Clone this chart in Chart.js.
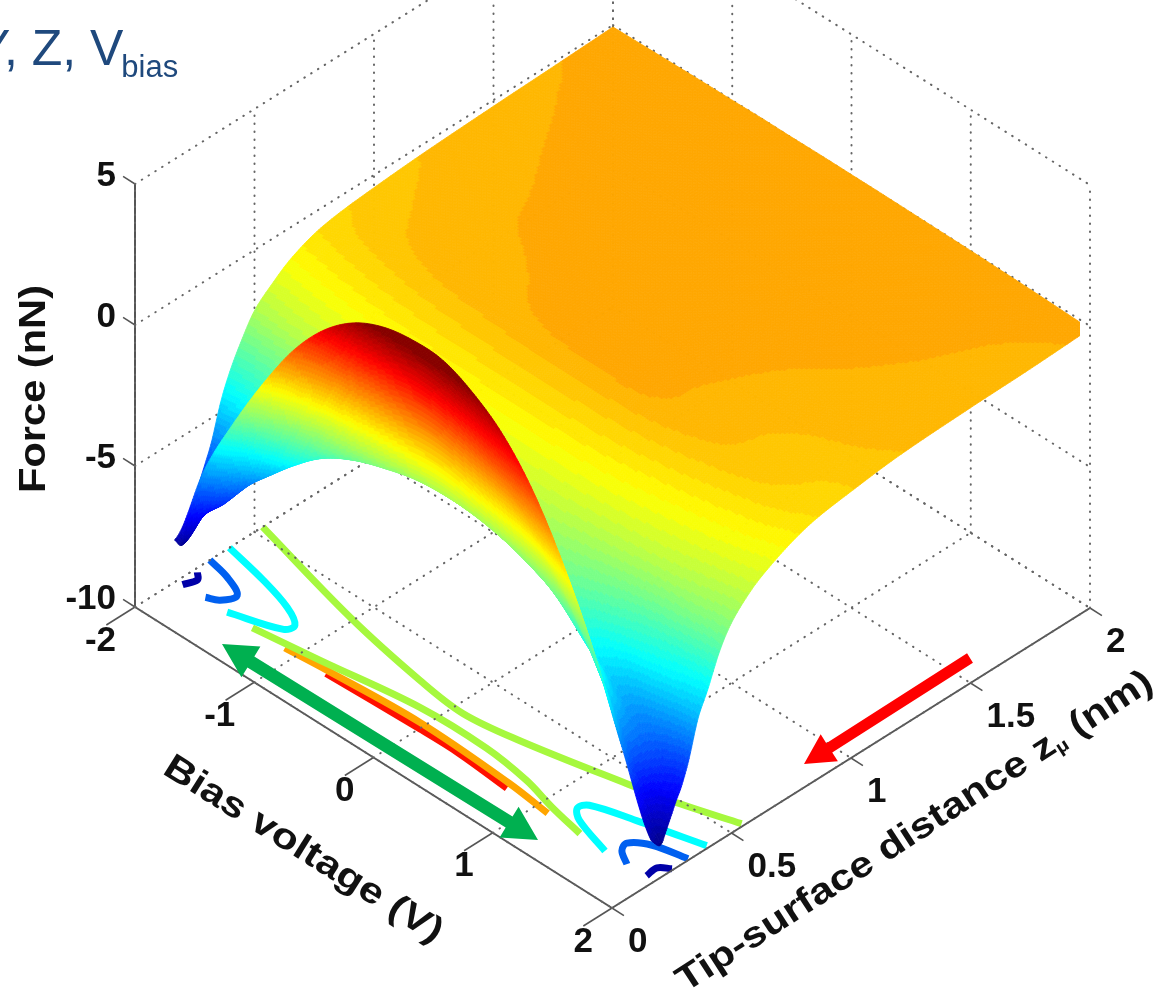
<!DOCTYPE html>
<html>
<head>
<meta charset="utf-8">
<title>Force surface</title>
<script src="https://cdn.jsdelivr.net/npm/chart.js@4/dist/chart.umd.min.js"></script>
<style>
  html, body { margin: 0; padding: 0; background: #fff; overflow: hidden; }
  canvas { display: block; }
</style>
</head>
<body>
<canvas id="forceChart" width="1174" height="996"></canvas>
<script>
// Values
const biasVoltage = [-2, -1.75, -1.5, -1.25, -1, -0.75, -0.5, -0.25, 0, 0.25, 0.5, 0.75, 1, 1.25, 1.5, 1.75, 2];
const tipDistance = [0.165, 0.197, 0.21, 0.22, 0.23, 0.24, 0.255, 0.27, 0.29, 0.32, 0.36, 0.4, 0.45, 0.5, 0.58, 0.65, 0.75, 0.85, 1, 1.2, 1.5, 1.75, 2];

// one row per tipDistance entry, one column per biasVoltage entry (nN)
const forceRows = [
    [-8.5, -5.35, -3, -0.92, 0.9, 2.27, 3.2, 3.72, 3.92, 3.88, 3.4, 2.6, 1.3, -0.57, -2.9, -5.8, -8.5],
    [-8.85, -6.4, -4, -2.2, -0.7, 0.6, 1.5, 1.95, 2.1, 1.93, 1.42, 0.56, -0.64, -2.18, -4.06, -6.28, -8.85],
    [-8.4, -6.7, -4.4, -2.7, -1.25, -0.05, 0.8, 1.25, 1.4, 1.24, 0.76, -0.03, -1.15, -2.58, -4.34, -6.41, -8.8],
    [-8.1, -6.85, -4.7, -3.05, -1.7, -0.6, 0.25, 0.7, 0.85, 0.7, 0.26, -0.48, -1.51, -2.84, -4.47, -6.38, -8.6],
    [-7.9, -6.95, -5, -3.4, -2.1, -1.1, -0.3, 0.15, 0.3, 0.16, -0.24, -0.92, -1.88, -3.1, -4.59, -6.36, -8.4],
    [-7.7, -7, -5.2, -3.7, -2.5, -1.6, -0.9, -0.45, -0.3, -0.42, -0.79, -1.41, -2.28, -3.39, -4.74, -6.35, -8.2],
    [-7.4, -6.9, -5.5, -4.15, -3.05, -2.3, -1.7, -1.25, -1.1, -1.21, -1.53, -2.06, -2.8, -3.76, -4.93, -6.31, -7.9],
    [-7, -6.6, -5.6, -4.45, -3.4, -2.7, -2.2, -1.85, -1.7, -1.8, -2.05, -2.5, -3.1, -4.13, -5.11, -6.26, -7.6],
    [-6.55, -6.2, -5.5, -4.5, -3.6, -3, -2.6, -2.3, -2.2, -2.25, -2.45, -2.8, -3.3, -4.2, -5.17, -6.14, -7.25],
    [-5.85, -5.6, -5.05, -4.3, -3.6, -3.1, -2.75, -2.5, -2.4, -2.45, -2.6, -2.9, -3.3, -4, -4.86, -5.62, -6.5],
    [-4.6, -4.4, -4.05, -3.55, -3.1, -2.75, -2.5, -2.35, -2.3, -2.33, -2.45, -2.65, -2.95, -3.45, -4.06, -4.59, -5.2],
    [-3.7, -3.55, -3.3, -2.95, -2.6, -2.4, -2.25, -2.15, -2.1, -2.13, -2.22, -2.4, -2.65, -3, -3.48, -3.91, -4.4],
    [-2.85, -2.75, -2.55, -2.35, -2.15, -2, -1.88, -1.82, -1.8, -1.82, -1.9, -2.02, -2.18, -2.4, -2.69, -2.97, -3.3],
    [-2.15, -2.01, -1.89, -1.78, -1.7, -1.63, -1.59, -1.56, -1.55, -1.56, -1.61, -1.68, -1.78, -1.9, -2.06, -2.3, -2.55],
    [-1.55, -1.45, -1.36, -1.29, -1.23, -1.18, -1.15, -1.13, -1.12, -1.13, -1.17, -1.22, -1.3, -1.41, -1.53, -1.68, -1.85],
    [-1.13, -1.05, -0.98, -0.92, -0.88, -0.84, -0.82, -0.8, -0.8, -0.81, -0.84, -0.9, -0.98, -1.07, -1.17, -1.3, -1.45],
    [-0.76, -0.68, -0.61, -0.55, -0.5, -0.47, -0.44, -0.42, -0.42, -0.43, -0.46, -0.5, -0.57, -0.66, -0.77, -0.88, -1.03],
    [-0.58, -0.47, -0.38, -0.31, -0.25, -0.22, -0.19, -0.15, -0.13, -0.12, -0.12, -0.2, -0.29, -0.38, -0.48, -0.6, -0.75],
    [-0.45, -0.36, -0.28, -0.22, -0.2, -0.15, -0.1, -0.05, -0.03, -0.03, -0.05, -0.14, -0.22, -0.31, -0.41, -0.49, -0.55],
    [-0.33, -0.27, -0.21, -0.16, -0.1, -0.05, -0.01, 0.01, 0.02, 0.01, -0.03, -0.09, -0.15, -0.19, -0.23, -0.28, -0.35],
    [-0.22, -0.18, -0.13, -0.09, -0.05, -0.02, 0.01, 0.03, 0.03, 0.03, 0.01, -0.03, -0.07, -0.11, -0.15, -0.2, -0.24],
    [-0.15, -0.11, -0.07, -0.04, -0.02, 0, 0.02, 0.03, 0.03, 0.03, 0.02, 0, -0.03, -0.06, -0.1, -0.15, -0.19],
    [-0.07, -0.05, -0.03, -0.01, 0, 0.02, 0.02, 0.03, 0.03, 0.03, 0.02, 0.01, 0, -0.02, -0.04, -0.07, -0.1]
];

// contours on the floor, [bias, distance]
const contourDarkBlueLeft = [[-1.97, 0.246], [-1.92, 0.222], [-1.95, 0.174]];
const contourBlueLeft = [[-2, 0.313], [-1.81, 0.292], [-1.65, 0.253], [-1.69, 0.201], [-1.77, 0.18]];
const contourCyanLeft = [[-2, 0.395], [-1.64, 0.358], [-1.36, 0.318], [-1.21, 0.275], [-1.23, 0.237], [-1.58, 0.176]];
const contourGreenUpper = [[-2, 0.534], [-1.03, 0.417], [-0.32, 0.354], [0.08, 0.334], [0.5, 0.363], [1.23, 0.444], [1.59, 0.489], [1.98, 0.552]];
const contourGreenLower = [[-1.37, 0.177], [-0.87, 0.211], [-0.14, 0.264], [0.41, 0.268], [0.79, 0.245], [1.08, 0.209], [1.37, 0.18]];
const contourOrange = [[-1.1, 0.178], [-0.78, 0.192], [-0.04, 0.214], [0.74, 0.199], [1.1, 0.18]];
const contourRed = [[-0.76, 0.182], [0, 0.194], [0.33, 0.195], [0.76, 0.18]];
const contourCyanRight = [[1.59, 0.175], [1.28, 0.223], [1.19, 0.259], [1.22, 0.294], [1.52, 0.342], [1.98, 0.406]];
const contourBlueRight = [[1.77, 0.177], [1.66, 0.211], [1.63, 0.247], [1.75, 0.293], [1.99, 0.323]];
const contourDarkBlueRight = [[1.93, 0.18], [1.92, 0.228], [1.99, 0.256]];

const biasTicks = [-2, -1, 0, 1, 2];
const distanceTicks = [0, 0.5, 1, 1.5, 2];
const forceTicks = [-10, -5, 0, 5];

// Fixed view of the 3D box, result is in the chart's x/y scale units
const planeX = (v, z) => 135 + 477 * (v + 2) / 4 + 478 * z / 2;
const planeY = (v, z, f) => 607 + 301 * (v + 2) / 4 - 300 * z / 2 - 28.2 * (f + 10);
const toPlane = (v, z, f) => ({ x: planeX(v, z), y: planeY(v, z, f) });

const FORCE_MIN = -9;
const FORCE_MAX = 3.6;
const FLOOR = -10;
const TOP = 5;
const SURFACE_CLIP_X = 1080;

// MATLAB jet with 64 steps
function jetColor(force) {
    let i = Math.floor((force - FORCE_MIN) / (FORCE_MAX - FORCE_MIN) * 64);
    i = Math.max(0, Math.min(63, i));
    const t = (i + 0.5) / 64;
    const ch = (val) => Math.round(255 * Math.max(0, Math.min(1, val)));
    const r = ch(Math.min(4 * t - 1.5, -4 * t + 4.5));
    const g = ch(Math.min(4 * t - 0.5, -4 * t + 3.5));
    const b = ch(Math.min(4 * t + 0.5, -4 * t + 2.5));
    return 'rgb(' + r + ',' + g + ',' + b + ')';
}

function gridLine(a, b) {
    return {
        data: [a, b], showLine: true, pointRadius: 0, borderColor: '#666',
        borderWidth: 2, borderDash: [0.5, 7.5], borderCapStyle: 'round'
    };
}

function axisLine(a, b, width) {
    return { data: [a, b], showLine: true, pointRadius: 0, borderColor: '#555', borderWidth: width || 2 };
}

function contourLine(points, color, width) {
    return {
        data: points.map(p => toPlane(p[0], p[1], FLOOR)),
        showLine: true, pointRadius: 0, borderColor: color, borderWidth: width || 7,
        tension: 0.35, borderCapStyle: 'butt', borderJoinStyle: 'round'
    };
}

const datasets = [];

// dotted box grid
biasTicks.forEach(v => {
    datasets.push(gridLine(toPlane(v, 0, FLOOR), toPlane(v, 2, FLOOR)));
    datasets.push(gridLine(toPlane(v, 2, FLOOR), toPlane(v, 2, TOP)));
});
distanceTicks.forEach(z => {
    datasets.push(gridLine(toPlane(-2, z, FLOOR), toPlane(2, z, FLOOR)));
    datasets.push(gridLine(toPlane(-2, z, FLOOR), toPlane(-2, z, TOP)));
});
forceTicks.forEach(f => {
    datasets.push(gridLine(toPlane(-2, 0, f), toPlane(-2, 2, f)));
    datasets.push(gridLine(toPlane(-2, 2, f), toPlane(2, 2, f)));
});

// axes and tick marks
datasets.push(axisLine(toPlane(-2, 0, FLOOR), toPlane(-2, 0, TOP)));
datasets.push(axisLine(toPlane(-2, 0, FLOOR), toPlane(2, 0, FLOOR)));
datasets.push(axisLine(toPlane(2, 0, FLOOR), toPlane(2, 2, FLOOR)));
forceTicks.forEach(f => datasets.push(axisLine(toPlane(-2, 0, f), toPlane(-2.1, 0, f), 1.5)));
biasTicks.forEach(v => datasets.push(axisLine(toPlane(v, 0, FLOOR), toPlane(v, -0.12, FLOOR), 1.5)));
distanceTicks.forEach(z => datasets.push(axisLine(toPlane(2, z, FLOOR), toPlane(2.1, z, FLOOR), 1.5)));

datasets.push(contourLine(contourDarkBlueLeft, '#0000a8'));
datasets.push(contourLine(contourBlueLeft, '#0060f0'));
datasets.push(contourLine(contourCyanLeft, '#00ffff'));
datasets.push(contourLine(contourGreenUpper, '#a6f83e'));
datasets.push(contourLine(contourGreenLower, '#a6f83e'));
datasets.push(contourLine(contourOrange, '#ffa500'));
datasets.push(contourLine(contourRed, '#ff1000', 8));
datasets.push(contourLine(contourCyanRight, '#00ffff'));
datasets.push(contourLine(contourBlueRight, '#0060f0'));
datasets.push(contourLine(contourDarkBlueRight, '#0000a8'));

// Smooth force between table entries, only used to shade and outline the cells
function forceAt(iz, iv, s, t) {
    const along = (row) => {
        const r = forceRows[Math.max(0, Math.min(forceRows.length - 1, row))];
        const p1 = r[iv], p2 = r[iv + 1];
        const p0 = iv > 0 ? r[iv - 1] : p1;
        const p3 = iv < r.length - 2 ? r[iv + 2] : p2;
        return p1 + 0.5 * s * (p2 - p0 + s * (2 * p0 - 5 * p1 + 4 * p2 - p3 + s * (3 * (p1 - p2) + p3 - p0)));
    };
    const z0 = tipDistance[iz], z1 = tipDistance[iz + 1], dz = z1 - z0;
    const f0 = along(iz), f1 = along(iz + 1);
    const lo = iz > 0 ? iz - 1 : iz;
    const hi = iz < tipDistance.length - 2 ? iz + 2 : iz + 1;
    const m0 = (f1 - along(lo)) / (z1 - tipDistance[lo]);
    const m1 = (along(hi) - f0) / (tipDistance[hi] - z0);
    const t2 = t * t, t3 = t2 * t;
    return (2 * t3 - 3 * t2 + 1) * f0 + (t3 - 2 * t2 + t) * dz * m0 + (-2 * t3 + 3 * t2) * f1 + (t3 - t2) * dz * m1;
}

// Surface with interpolated shading, painted from the far corner to the near one
function drawSurface(chart) {
    const ctx = chart.ctx;
    const xs = chart.scales.x;
    const ys = chart.scales.y;
    const px = (v, z, f) => [xs.getPixelForValue(planeX(v, z)), ys.getPixelForValue(planeY(v, z, f))];

    ctx.save();
    ctx.beginPath();
    ctx.rect(0, 0, xs.getPixelForValue(SURFACE_CLIP_X), chart.height);
    ctx.clip();
    ctx.lineWidth = 0.8;

    for (let iz = tipDistance.length - 2; iz >= 0; iz--) {
        for (let iv = 0; iv < biasVoltage.length - 1; iv++) {
            const v0 = biasVoltage[iv], v1 = biasVoltage[iv + 1];
            const z0 = tipDistance[iz], z1 = tipDistance[iz + 1];

            const a = px(v0, z0, forceRows[iz][iv]), b = px(v1, z0, forceRows[iz][iv + 1]);
            const c = px(v0, z1, forceRows[iz + 1][iv]), d = px(v1, z1, forceRows[iz + 1][iv + 1]);
            const spanV = Math.max(Math.hypot(a[0] - b[0], a[1] - b[1]), Math.hypot(c[0] - d[0], c[1] - d[1]));
            const spanZ = Math.max(Math.hypot(a[0] - c[0], a[1] - c[1]), Math.hypot(b[0] - d[0], b[1] - d[1]));
            const nv = Math.max(2, Math.ceil(spanV / 3));
            const nz = Math.max(2, Math.ceil(spanZ / 3));

            const at = (s, t) => {
                const f = forceAt(iz, iv, s, t);
                return { p: px(v0 + (v1 - v0) * s, z0 + (z1 - z0) * t, f), f: f };
            };

            for (let tz = nz - 1; tz >= 0; tz--) {
                for (let sv = 0; sv < nv; sv++) {
                    const q0 = at(sv / nv, tz / nz), q1 = at((sv + 1) / nv, tz / nz);
                    const q2 = at((sv + 1) / nv, (tz + 1) / nz), q3 = at(sv / nv, (tz + 1) / nz);
                    const color = jetColor((q0.f + q1.f + q2.f + q3.f) / 4);
                    ctx.fillStyle = color;
                    ctx.strokeStyle = color;
                    ctx.beginPath();
                    ctx.moveTo(q0.p[0], q0.p[1]);
                    ctx.lineTo(q1.p[0], q1.p[1]);
                    ctx.lineTo(q2.p[0], q2.p[1]);
                    ctx.lineTo(q3.p[0], q3.p[1]);
                    ctx.closePath();
                    ctx.fill();
                    ctx.stroke();
                }
            }
        }
    }
    ctx.restore();
}

// Slide annotations on top of the plot, in the chart's plane units
const redArrow = { from: [970, 658], to: [804, 764], width: 11, headLength: 30, headWidth: 32, color: '#ff0000', both: false };
const greenArrow = { from: [222, 644], to: [538, 840], width: 13, headLength: 34, headWidth: 36, color: '#00b050', both: true };

function drawArrow(chart, arrow) {
    const ctx = chart.ctx;
    const x0 = chart.scales.x.getPixelForValue(arrow.from[0]);
    const y0 = chart.scales.y.getPixelForValue(arrow.from[1]);
    const x1 = chart.scales.x.getPixelForValue(arrow.to[0]);
    const y1 = chart.scales.y.getPixelForValue(arrow.to[1]);
    const len = Math.hypot(x1 - x0, y1 - y0);
    const hl = arrow.headLength, hw = arrow.headWidth / 2, w = arrow.width / 2;

    ctx.save();
    ctx.translate(x0, y0);
    ctx.rotate(Math.atan2(y1 - y0, x1 - x0));
    ctx.fillStyle = arrow.color;
    ctx.beginPath();
    if (arrow.both) {
        ctx.moveTo(0, 0);
        ctx.lineTo(hl, -hw);
        ctx.lineTo(hl, -w);
    } else {
        ctx.moveTo(0, -w);
    }
    ctx.lineTo(len - hl, -w);
    ctx.lineTo(len - hl, -hw);
    ctx.lineTo(len, 0);
    ctx.lineTo(len - hl, hw);
    ctx.lineTo(len - hl, w);
    if (arrow.both) {
        ctx.lineTo(hl, w);
        ctx.lineTo(hl, hw);
    } else {
        ctx.lineTo(0, w);
    }
    ctx.closePath();
    ctx.fill();
    ctx.restore();
}

// Rotated label stretched to a given length, parts = [[text, font, dy], ...]
function drawFittedLabel(ctx, parts, cx, cy, angleDeg, length) {
    ctx.save();
    ctx.translate(cx, cy);
    ctx.rotate(angleDeg * Math.PI / 180);
    let total = 0;
    parts.forEach(p => { ctx.font = p[1]; total += ctx.measureText(p[0]).width; });
    ctx.scale(length / total, 1);
    ctx.fillStyle = '#111';
    ctx.textAlign = 'left';
    ctx.textBaseline = 'middle';
    let x = -total / 2;
    parts.forEach(p => {
        ctx.font = p[1];
        ctx.fillText(p[0], x, p[2]);
        x += ctx.measureText(p[0]).width;
    });
    ctx.restore();
}

function drawTexts(chart) {
    const ctx = chart.ctx;
    const xs = chart.scales.x;
    const ys = chart.scales.y;
    const tickFont = 'bold 35px "Liberation Sans", Arial, sans-serif';
    const titleFont = 'bold 36px "Liberation Sans", Arial, sans-serif';
    const at = (p) => [xs.getPixelForValue(p.x), ys.getPixelForValue(p.y)];

    ctx.save();
    ctx.fillStyle = '#111';
    ctx.font = tickFont;
    ctx.textBaseline = 'middle';

    ctx.textAlign = 'right';
    forceTicks.forEach(f => {
        const p = at(toPlane(-2, 0, f));
        ctx.fillText(String(f), p[0] - 19, p[1] - 8);
    });
    biasTicks.forEach(v => {
        const p = at(toPlane(v, 0, FLOOR));
        ctx.fillText(String(v), p[0] - 19, p[1] + 34);
    });
    ctx.textAlign = 'left';
    distanceTicks.forEach(z => {
        const p = at(toPlane(2, z, FLOOR));
        ctx.fillText(String(z), p[0] + 16, p[1] + 34);
    });

    // slide heading, cut off by the left edge like the source
    ctx.fillStyle = '#1f497d';
    ctx.textBaseline = 'alphabetic';
    ctx.font = '50px "Liberation Sans", Arial, sans-serif';
    ctx.fillText('Y, Z, V', -23, 65);
    const headWidth = ctx.measureText('Y, Z, V').width;
    ctx.font = '31px "Liberation Sans", Arial, sans-serif';
    ctx.fillText('bias', -23 + headWidth - 2, 77);
    ctx.restore();

    drawFittedLabel(ctx, [['Force (nN)', titleFont, 0]], 35, 389, -90, 208);
    drawFittedLabel(ctx, [['Bias voltage (V)', titleFont, 0]], 303, 850, 32, 322);
    drawFittedLabel(ctx, [
        ['Tip-surface distance z', titleFont, 0],
        ['\u00b5', 'bold 18px "Liberation Sans", Arial, sans-serif', 9],
        [' (nm)', titleFont, 0]
    ], 915, 832, -33, 560);
}

const surfacePlugin = {
    id: 'forceSurface',
    afterDatasetsDraw(chart) {
        drawSurface(chart);
        drawArrow(chart, redArrow);
        drawArrow(chart, greenArrow);
        drawTexts(chart);
    }
};

new Chart(document.getElementById('forceChart'), {
    type: 'scatter',
    data: { datasets: datasets },
    plugins: [surfacePlugin],
    options: {
        responsive: false,
        animation: false,
        events: [],
        layout: { padding: 0 },
        plugins: { legend: { display: false }, title: { display: false }, tooltip: { enabled: false } },
        scales: {
            x: { type: 'linear', min: 0, max: 1174, display: false },
            y: { type: 'linear', min: 0, max: 996, reverse: true, display: false }
        }
    }
});
</script>
</body>
</html>
